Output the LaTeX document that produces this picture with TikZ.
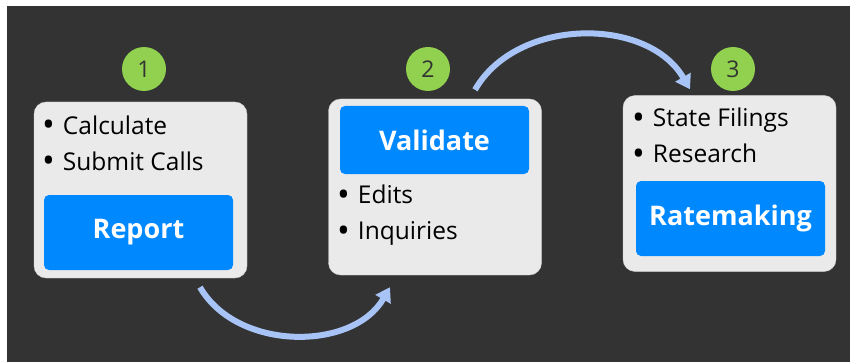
\documentclass[tikz,border=0pt]{standalone}
\usepackage{fontspec}
\setmainfont{Open Sans}
\usepackage{tikz}
\usetikzlibrary{positioning,arrows.meta}
\usepackage{xcolor}

\definecolor{bgdark}{HTML}{333333}
\definecolor{panelgray}{HTML}{EAEAEA}
\definecolor{tagblue}{HTML}{0088FF}
\definecolor{badgegreen}{HTML}{92D050}
\definecolor{flowblue}{HTML}{A8C4F6}

% larger bullet for the lists
\newcommand{\itemdot}{\raisebox{-2.5pt}{\fontsize{34}{34}\selectfont•}\hspace{8pt}}

\begin{document}
\begin{tikzpicture}[
    x=1pt, y=1pt,
    panel/.style={rectangle, rounded corners=12pt, draw=black!20, fill=panelgray, minimum width=213pt, minimum height=176pt},
    tag/.style={rectangle, rounded corners=5pt, fill=tagblue, text=white, minimum width=189pt, font=\fontsize{27}{30}\selectfont\bfseries},
    items/.style={anchor=west, align=left, inner sep=0pt, font=\fontsize{24.5}{36}\selectfont},
    badge/.style={circle, fill=badgegreen, minimum size=44pt, inner sep=0pt, text=bgdark, font=\fontsize{23}{26}\selectfont},
    flow/.style={-{Triangle[length=14pt,width=17pt]}, line width=6pt, draw=flowblue}
]

% background
\fill[white] (0,0) rectangle (850,362);
\fill[bgdark] (7,0) rectangle (850,356);

% panels
\node[panel] (report) at (140.5,172) {};
\node[panel] (validate) at (435,175) {};
\node[panel] (ratemaking) at (729.5,178.5) {};

\node[tag, minimum height=75pt] (reporttag) at (138.5,129.5) {Report};
\node[tag, minimum height=68pt] (validatetag) at (434.5,222) {Validate};
\node[tag, minimum height=75pt] (ratemakingtag) at (730.5,143.5) {Ratemaking};

\node[items] (reportlist) at (42,218) {\itemdot Calculate\\\itemdot Submit Calls};
\node[items] (validatelist) at (337,146.5) {\itemdot Edits\\\itemdot Inquiries};
\node[items] (ratemakinglist) at (632,225.5) {\itemdot State Filings\\\itemdot Research};

% step numbers
\node[badge] (one) at (144,293) {1};
\node[badge] (two) at (428,293) {2};
\node[badge] (three) at (733,293) {3};

% flow between panels
\draw[flow] ([xshift=59.5pt,yshift=-9pt]report.south) to[bend right=60] ([xshift=-45pt,yshift=-12pt]validate.south);
\draw[flow] ([xshift=40pt,yshift=9pt]validate.north) to[bend left=60] ([xshift=-39.5pt,yshift=6pt]ratemaking.north);

\end{tikzpicture}
\end{document}
